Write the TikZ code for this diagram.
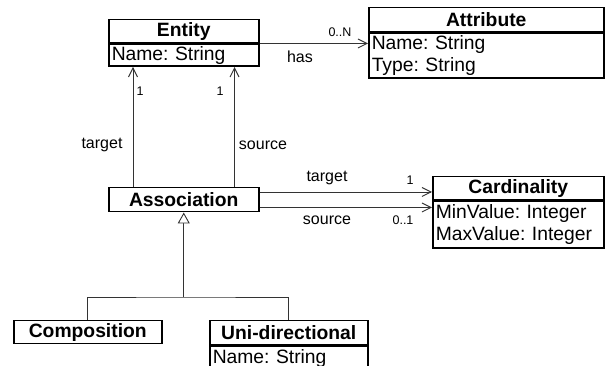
\documentclass[tikz,border=0pt]{standalone}
\usepackage{fontspec}
\setmainfont{Liberation Sans}
\frenchspacing
\usetikzlibrary{arrows.meta}
\begin{document}
\begin{tikzpicture}[x=1pt,y=-1pt,
  cls/.style={draw,line width=1.5pt,inner sep=0pt,anchor=north west,font=\fontsize{19.3}{22}\selectfont\bfseries},
  attrs/.style={draw,line width=1.5pt,inner xsep=3pt,inner ysep=0pt,anchor=north west,align=left,font=\fontsize{19.3}{22.5}\selectfont},
  link/.style={line width=0.9pt,black!80},
  nav/.style={link,-{Straight Barb[length=9pt,width=9pt]}},
  gen/.style={link,-{Triangle[open,length=11pt,width=12pt,fill=white]}},
  lbl/.style={font=\fontsize{16}{18}\selectfont},
  mult/.style={font=\fontsize{12.5}{14}\selectfont}]
\clip (0,0) rectangle (606,366);
\node[cls,minimum width=150pt,minimum height=23pt] (ent) at (108,19) {Entity};
\node[attrs,text width=144pt,minimum height=22pt] (enta) at (ent.south west) {Name: String};
\node[cls,minimum width=235pt,minimum height=24pt] (att) at (368,7) {Attribute};
\node[attrs,text width=229pt,minimum height=45pt] (atta) at (att.south west) {Name: String\\Type: String};
\node[cls,minimum width=150pt,minimum height=24pt] (asc) at (108,187) {Association};
\node[cls,minimum width=171pt,minimum height=23pt] (card) at (432,176) {Cardinality};
\node[attrs,text width=165pt,minimum height=47pt] (carda) at (card.south west) {MinValue: Integer\\MaxValue: Integer};
\node[cls,minimum width=148pt,minimum height=23pt] (comp) at (13,320) {Composition};
\node[cls,minimum width=158pt,minimum height=24pt] (uni) at (209,320) {Uni-directional};
\node[attrs,text width=152pt,minimum height=24pt] (unia) at (uni.south west) {Name: String};

\node[mult] (hasm) at (340,32) {0..N};
\node[lbl] (has) at (300,57) {has};
\node[mult] (tm1) at (140,91) {1};
\node[mult] (sm1) at (220,91) {1};
\node[lbl] (tl) at (102,145) {target};
\node[lbl] (sl) at (263,145) {source};
\node[lbl] (ctl) at (327,178) {target};
\node[mult] (ctm) at (410,180) {1};
\node[lbl] (csl) at (327,220) {source};
\node[mult] (csm) at (403,220) {0..1};

\draw[nav] (ent.south east) -- (ent.south east -| att.west);
\coordinate (tgt) at ([xshift=25pt]asc.north west);
\coordinate (src) at ([xshift=-25pt]asc.north east);
\draw[nav] (tgt) -- (tgt |- enta.south);
\draw[nav] (src) -- (src |- enta.south);
\coordinate (ctgt) at ([yshift=-5pt]asc.north east);
\coordinate (csrc) at ([yshift=5pt]asc.south east);
\draw[nav] (ctgt) -- (ctgt -| card.west);
\draw[nav] (csrc) -- (csrc -| card.west);
\coordinate (split) at (asc.south |- 0,297);
\draw[link] (comp.north) |- (split) -| (uni.north);
\draw[gen] (split) -- (asc.south);
\end{tikzpicture}
\end{document}
